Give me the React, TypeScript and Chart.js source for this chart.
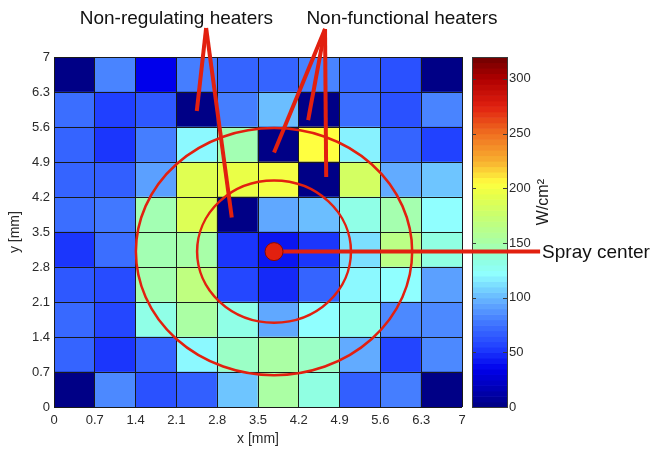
import { useEffect, useRef } from "react";
import { Chart, registerables } from "chart.js";

Chart.register(...registerables);

// ---------- data ----------
const tickValues = [0, 0.7, 1.4, 2.1, 2.8, 3.5, 4.2, 4.9, 5.6, 6.3, 7];
const xTickLabels = ["0", "0.7", "1.4", "2.1", "2.8", "3.5", "4.2", "4.9", "5.6", "6.3", "7"];
const yTickLabels = ["0", "0.7", "1.4", "2.1", "2.8", "3.5", "4.2", "4.9", "5.6", "6.3", "7"];
const columnCenters = ["0.35", "1.05", "1.75", "2.45", "3.15", "3.85", "4.55", "5.25", "5.95", "6.65"];
const colorbarTicks = [0, 50, 100, 150, 200, 250, 300];
const colorbarMax = 320;
const colorbarLevels = 64;

// heat flux (W/cm²) per heater cell, one array per row (named by the row's lower y edge)
const rowY63 = [2, 82, 35, 80, 70, 70, 82, 70, 62, 2];
const rowY56 = [74, 55, 65, 2, 80, 102, 2, 74, 62, 82];
const rowY49 = [70, 52, 80, 120, 147, 2, 205, 118, 70, 56];
const rowY42 = [70, 68, 92, 190, 196, 200, 2, 182, 96, 104];
const rowY35 = [74, 78, 147, 188, 2, 95, 102, 132, 148, 122];
const rowY28 = [52, 74, 147, 150, 52, 42, 52, 112, 165, 134];
const rowY21 = [65, 60, 148, 168, 58, 48, 70, 120, 122, 92];
const rowY14 = [72, 58, 132, 152, 132, 95, 122, 130, 84, 84];
const rowY07 = [70, 52, 70, 120, 142, 152, 142, 96, 57, 84];
const rowY00 = [2, 84, 62, 68, 104, 152, 134, 68, 80, 2];
const fluxRows = [rowY00, rowY07, rowY14, rowY21, rowY28, rowY35, rowY42, rowY49, rowY56, rowY63];

// annotations (mm)
const sprayCenter = [3.775, 3.11];
const innerRing = [1.32, 1.42];
const outerRing = [2.37, 2.47];
const nonRegApex = [2.61, 7.58];
const nonRegTargets = [[2.45, 5.92], [3.05, 3.79]];
const nonFuncApex = [4.65, 7.56];
const nonFuncTargets = [[3.775, 5.09], [4.36, 5.74], [4.67, 4.6]];
const nonRegLabel = [2.1, 7.66];
const nonFuncLabel = [5.97, 7.66];
const sprayLabelX = 8.34;

// ---------- colormap (jet-like as in reference) ----------
const cmapStops: [number, number[]][] = [
  [0, [0, 0, 128]],
  [35, [0, 0, 235]],
  [55, [32, 64, 255]],
  [75, [60, 112, 255]],
  [95, [96, 168, 255]],
  [110, [120, 216, 255]],
  [122, [144, 255, 255]],
  [135, [144, 255, 224]],
  [150, [168, 255, 168]],
  [175, [200, 255, 112]],
  [195, [232, 255, 72]],
  [205, [255, 255, 64]],
  [225, [248, 176, 48]],
  [250, [240, 112, 32]],
  [275, [224, 32, 16]],
  [300, [176, 0, 0]],
  [320, [112, 0, 0]],
];

function rgb(c: number[]) {
  return `rgb(${Math.round(c[0])},${Math.round(c[1])},${Math.round(c[2])})`;
}
function cmap(v: number): string {
  if (v <= cmapStops[0][0]) return rgb(cmapStops[0][1]);
  for (let i = 1; i < cmapStops.length; i++) {
    const [v1, c1] = cmapStops[i];
    const [v0, c0] = cmapStops[i - 1];
    if (v <= v1) {
      const t = (v - v0) / (v1 - v0);
      return rgb(c0.map((c, k) => c + (c1[k] - c) * t));
    }
  }
  return rgb(cmapStops[cmapStops.length - 1][1]);
}

const FONT = "'Liberation Sans', Arial, Helvetica, sans-serif";
const RED = "#e2200f";

const overlayPlugin = {
  id: "overlay",
  afterDraw(chart: any) {
    const { ctx, chartArea, scales } = chart;
    const xs = scales.x2;
    const ys = scales.y;
    const yc = scales.yc;
    const X = (v: number) => xs.getPixelForValue(v);
    const Y = (v: number) => ys.getPixelForValue(v);
    ctx.save();

    // colorbar (banded like a 64-level colormap)
    const cbL = chartArea.right + 10;
    const cbW = 35;
    const top = yc.getPixelForValue(colorbarMax);
    const bot = yc.getPixelForValue(0);
    const step = colorbarMax / colorbarLevels;
    for (let i = 0; i < colorbarLevels; i++) {
      const y0 = yc.getPixelForValue(i * step);
      const y1 = yc.getPixelForValue((i + 1) * step);
      ctx.fillStyle = cmap((i + 0.5) * step);
      ctx.fillRect(cbL, y1, cbW, y0 - y1 + 0.6);
    }
    ctx.strokeStyle = "#3a3a3a";
    ctx.lineWidth = 1;
    ctx.strokeRect(Math.round(cbL) + 0.5, Math.round(top) + 0.5, cbW, Math.round(bot - top));
    colorbarTicks.forEach((t) => {
      const py = Math.round(yc.getPixelForValue(t)) + 0.5;
      ctx.beginPath();
      ctx.moveTo(cbL, py);
      ctx.lineTo(cbL + 4, py);
      ctx.moveTo(cbL + cbW - 4, py);
      ctx.lineTo(cbL + cbW, py);
      ctx.stroke();
    });
    // colorbar label
    ctx.save();
    ctx.translate(cbL + cbW + 37, (top + bot) / 2 - 30);
    ctx.rotate(-Math.PI / 2);
    ctx.fillStyle = "#1a1a1a";
    ctx.font = `16px ${FONT}`;
    ctx.textAlign = "center";
    ctx.textBaseline = "middle";
    ctx.fillText("W/cm²", 0, 0);
    ctx.restore();

    // rings
    ctx.strokeStyle = RED;
    ctx.lineWidth = 2.5;
    [innerRing, outerRing].forEach(([rx, ry]) => {
      const cx = X(sprayCenter[0]);
      const cy = Y(sprayCenter[1]);
      ctx.beginPath();
      ctx.ellipse(cx, cy, Math.abs(X(sprayCenter[0] + rx) - cx), Math.abs(Y(sprayCenter[1] + ry) - cy), 0, 0, Math.PI * 2);
      ctx.stroke();
    });

    // pointer lines
    ctx.lineWidth = 4;
    ctx.lineCap = "butt";
    const pointers: [number[], number[][]][] = [
      [nonRegApex, nonRegTargets],
      [nonFuncApex, nonFuncTargets],
    ];
    pointers.forEach(([apex, targets]) => {
      targets.forEach((t) => {
        ctx.beginPath();
        ctx.moveTo(X(apex[0]), Y(apex[1]));
        ctx.lineTo(X(t[0]), Y(t[1]));
        ctx.stroke();
      });
    });

    // spray center line and dot
    const sx = X(sprayCenter[0]);
    const sy = Y(sprayCenter[1]);
    ctx.beginPath();
    ctx.moveTo(sx, sy);
    ctx.lineTo(X(sprayLabelX), sy);
    ctx.stroke();
    ctx.beginPath();
    ctx.arc(sx, sy, 9, 0, Math.PI * 2);
    ctx.fillStyle = RED;
    ctx.fill();
    ctx.lineWidth = 1;
    ctx.strokeStyle = "#8a0a00";
    ctx.stroke();

    // texts
    ctx.fillStyle = "#111";
    ctx.font = `19px ${FONT}`;
    ctx.textBaseline = "alphabetic";
    ctx.textAlign = "center";
    ctx.fillText("Non-regulating heaters", X(nonRegLabel[0]), Y(nonRegLabel[1]));
    ctx.fillText("Non-functional heaters", X(nonFuncLabel[0]), Y(nonFuncLabel[1]));
    ctx.textAlign = "left";
    ctx.textBaseline = "middle";
    ctx.fillText("Spray center", X(sprayLabelX) + 2, sy + 1);

    ctx.restore();
  },
};

export default function App() {
  const canvasRef = useRef<HTMLCanvasElement | null>(null);

  useEffect(() => {
    if (!canvasRef.current) return;
    Chart.defaults.font.family = FONT;

    const datasets = fluxRows.map((row, r) => ({
      label: `y ${yTickLabels[r]}`,
      data: row.map(() => [tickValues[r], tickValues[r + 1]]),
      backgroundColor: row.map((v) => cmap(v)),
      borderWidth: 0,
      grouped: false,
      barPercentage: 1,
      categoryPercentage: 1,
      xAxisID: "x",
      yAxisID: "y",
    }));

    const setTicks = (vals: number[]) => (scale: any) => {
      scale.ticks = vals.map((v) => ({ value: v }));
    };

    const chart = new Chart(canvasRef.current, {
      type: "bar",
      data: { labels: columnCenters, datasets: datasets as any },
      plugins: [overlayPlugin],
      options: {
        responsive: false,
        animation: false,
        devicePixelRatio: 1,
        layout: { padding: { top: 57, right: 104, bottom: 0, left: 0 } },
        plugins: { legend: { display: false }, tooltip: { enabled: false } },
        scales: {
          x: { type: "category", display: false, offset: true },
          x2: {
            type: "linear",
            position: "bottom",
            min: 0,
            max: 7,
            offset: false,
            afterBuildTicks: setTicks(tickValues),
            afterFit: (s: any) => {
              s.height = 43;
            },
            grid: { display: true, offset: false, color: "#1a1a1a", lineWidth: 1, drawTicks: false, z: 1 },
            border: { display: false },
            ticks: {
              padding: 5,
              color: "#2a2a2a",
              font: { size: 13 },
              maxRotation: 0,
              autoSkip: false,
              callback: (_v: any, i: number) => xTickLabels[i],
            },
            title: { display: true, text: "x [mm]", color: "#2a2a2a", font: { size: 14 }, padding: { top: 0, bottom: 3 } },
          },
          y: {
            type: "linear",
            position: "left",
            min: 0,
            max: 7,
            offset: false,
            afterBuildTicks: setTicks(tickValues),
            afterFit: (s: any) => {
              s.width = 54;
            },
            grid: { display: true, offset: false, color: "#1a1a1a", lineWidth: 1, drawTicks: false, z: 1 },
            border: { display: false },
            ticks: {
              padding: 4,
              color: "#2a2a2a",
              font: { size: 13 },
              autoSkip: false,
              callback: (_v: any, i: number) => yTickLabels[i],
            },
            title: { display: true, text: "y [mm]", color: "#2a2a2a", font: { size: 14 }, padding: { top: 7, bottom: 0 } },
          },
          yc: {
            type: "linear",
            position: "right",
            min: 0,
            max: colorbarMax,
            offset: false,
            afterBuildTicks: setTicks(colorbarTicks),
            afterFit: (s: any) => {
              s.width = 90;
            },
            grid: { display: false, drawTicks: false },
            border: { display: false },
            ticks: {
              padding: 47,
              color: "#2a2a2a",
              font: { size: 13 },
              autoSkip: false,
              callback: (v: any) => String(v),
            },
          },
        },
      } as any,
    });

    return () => chart.destroy();
  }, []);

  return (
    <div style={{ position: "absolute", left: 0, top: 0, width: 656, height: 462, background: "#fff" }}>
      <canvas ref={canvasRef} width={656} height={462} style={{ display: "block" }} />
    </div>
  );
}
